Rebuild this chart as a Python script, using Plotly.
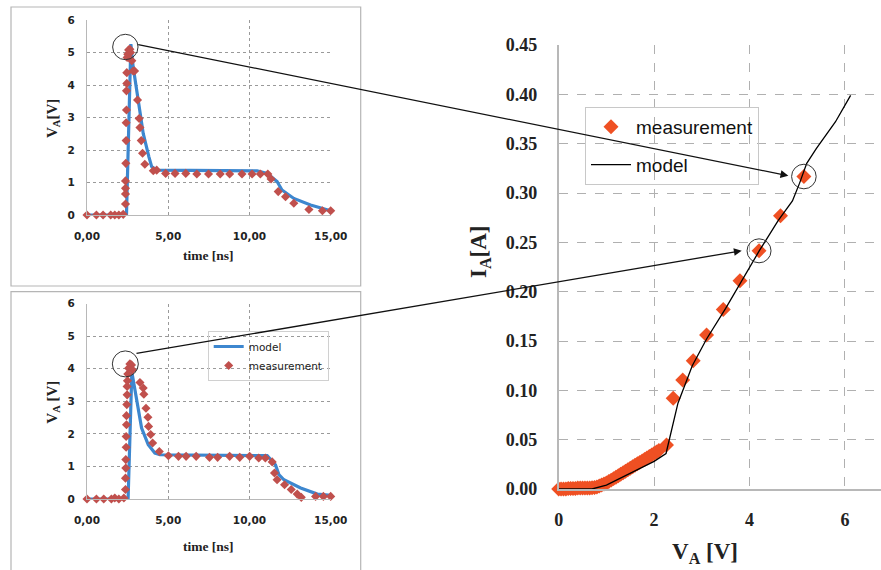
import plotly.graph_objects as go

W, H = 881, 570

# ---------------- data ----------------
# top-left: pulse 1 (time [ns], V_A [V])
t1_meas = [0.0, 0.58, 0.99, 1.46, 1.71, 1.96, 2.23, 2.37, 2.37, 2.37, 2.37, 2.39, 2.41, 2.41, 2.43, 2.43,
           2.45, 2.45, 2.47, 2.51, 2.56, 2.64, 2.68, 2.76, 2.84, 2.93, 3.11, 3.21, 3.26, 3.34, 3.42,
           3.56, 4.08, 4.29, 4.84, 5.42, 6.08, 6.76, 7.48, 8.2, 8.78, 9.54, 10.16, 10.67, 11.13,
           11.33, 11.77, 12.22, 12.73, 13.66, 14.49, 15.0]
v1_meas = [0.0, 0.0, 0.0, 0.0, 0.0, 0.0, 0.02, 0.34, 0.65, 0.82, 1.05, 1.59, 2.29, 2.84, 3.23, 3.82,
           4.05, 4.38, 4.85, 4.95, 5.08, 5.10, 5.0, 4.75, 4.43, 4.43, 3.54, 2.97, 2.69, 2.29, 1.90,
           1.56, 1.36, 1.38, 1.28, 1.28, 1.28, 1.26, 1.26, 1.26, 1.26, 1.26, 1.26, 1.26, 1.26,
           1.11, 0.72, 0.56, 0.36, 0.17, 0.13, 0.13]
t1_model = [0.0, 2.43, 2.70, 2.84, 3.15, 3.46, 3.81, 3.98, 4.29, 10.47, 11.09, 11.7, 12.0, 12.73, 13.76, 15.0]
v1_model = [0.0, 0.0, 5.26, 4.56, 3.54, 2.51, 1.79, 1.49, 1.38, 1.36, 1.28, 1.03, 0.77, 0.51, 0.31, 0.13]

# bottom-left: pulse 2
t2_meas = [0.0, 0.58, 1.03, 1.50, 1.71, 1.96, 2.27, 2.37, 2.37, 2.39, 2.39, 2.41, 2.41, 2.43, 2.43,
           2.45, 2.47, 2.47, 2.49, 2.51, 2.56, 2.64, 2.74, 2.80, 3.26, 3.46, 3.50, 3.63, 3.75, 3.79,
           3.92, 4.04, 4.45, 5.01, 5.63, 6.10, 6.72, 7.54, 8.04, 8.78, 9.40, 10.01, 10.57, 10.98,
           11.40, 11.54, 11.70, 12.16, 12.57, 12.94, 13.19, 14.07, 14.55, 15.0]
v2_meas = [0.0, 0.0, 0.0, 0.0, 0.03, 0.0, 0.03, 0.29, 0.64, 0.95, 1.21, 1.59, 1.92, 2.28, 2.56,
           2.90, 3.20, 3.46, 3.63, 3.84, 4.02, 4.15, 4.12, 3.97, 3.58, 3.41, 3.22, 2.79, 2.51, 2.23,
           1.98, 1.72, 1.46, 1.33, 1.31, 1.31, 1.31, 1.28, 1.28, 1.31, 1.28, 1.31, 1.26, 1.26,
           1.14, 0.80, 0.59, 0.44, 0.29, 0.15, 0.05, 0.08, 0.08, 0.08]
t2_model = [0.0, 2.53, 2.76, 3.05, 3.36, 3.77, 4.18, 4.49, 11.09, 11.6, 11.81, 12.12, 13.15, 14.18, 15.0]
v2_model = [0.0, 0.0, 3.9, 3.0, 2.18, 1.67, 1.41, 1.36, 1.33, 1.05, 0.75, 0.59, 0.34, 0.15, 0.11]

# right: I-V characteristic
va_meas = [0.0, 0.05, 0.1, 0.15, 0.2, 0.25, 0.3, 0.35, 0.4, 0.45, 0.5, 0.55, 0.6, 0.65, 0.7, 0.75,
           0.8, 0.85, 0.9, 0.95, 1.0, 1.05, 1.1, 1.15, 1.2, 1.25, 1.3, 1.35, 1.4, 1.45, 1.5, 1.55,
           1.6, 1.65, 1.7, 1.75, 1.8, 1.85, 1.9, 1.95, 2.0, 2.05, 2.1, 2.26, 2.40, 2.60, 2.82,
           3.10, 3.45, 3.80, 4.20, 4.65, 5.14]
ia_meas = [0.0, 0.0, 0.0, 0.0, 0.0005, 0.0005, 0.0005, 0.0005, 0.001, 0.001, 0.001, 0.001, 0.001,
           0.001, 0.0012, 0.0015, 0.002, 0.003, 0.004, 0.005, 0.006, 0.0075, 0.009, 0.0105, 0.012,
           0.0135, 0.015, 0.0165, 0.018, 0.0195, 0.021, 0.0225, 0.024, 0.0255, 0.027, 0.0285, 0.030,
           0.0315, 0.033, 0.0345, 0.036, 0.0375, 0.039, 0.0446, 0.092, 0.1105, 0.130, 0.156, 0.182,
           0.211, 0.2414, 0.277, 0.3167]
va_model = [0.0, 0.7, 1.0, 1.5, 2.0, 2.25, 2.32, 2.5, 2.8, 3.1, 3.5, 3.8, 4.2, 4.6, 4.9, 5.05,
            5.2, 5.4, 5.8, 6.12]
ia_model = [0.0, 0.0, 0.004, 0.016, 0.028, 0.036, 0.05, 0.087, 0.125, 0.152, 0.183, 0.208, 0.241,
            0.272, 0.292, 0.31, 0.33, 0.345, 0.372, 0.399]

time_ticks = [0, 5, 10, 15]
time_ticktext = ["0,00", "5,00", "10,00", "15,00"]
v_ticks = [0, 1, 2, 3, 4, 5, 6]
va_ticks = [0, 2, 4, 6]
ia_ticks = [0.0, 0.05, 0.10, 0.15, 0.20, 0.25, 0.30, 0.35, 0.40, 0.45]

# ---------------- style ----------------
BLUE = "#3D87CF"
RED = "#C0504D"
ORANGE = "#EF5023"


def px(x):
    return x / W


def py(y):
    return 1 - y / H


fig = go.Figure()

# top-left
fig.add_trace(go.Scatter(x=t1_model, y=v1_model, mode="lines", line=dict(color=BLUE, width=3.2),
                         xaxis="x", yaxis="y", showlegend=False))
fig.add_trace(go.Scatter(x=t1_meas, y=v1_meas, mode="markers",
                         marker=dict(symbol="diamond", size=7, color=RED), cliponaxis=False,
                         xaxis="x", yaxis="y", showlegend=False))
# bottom-left
fig.add_trace(go.Scatter(x=t2_model, y=v2_model, mode="lines", name="model",
                         line=dict(color=BLUE, width=3.2), xaxis="x2", yaxis="y2", legend="legend2"))
fig.add_trace(go.Scatter(x=t2_meas, y=v2_meas, mode="markers", name="measurement",
                         marker=dict(symbol="diamond", size=7, color=RED), cliponaxis=False,
                         xaxis="x2", yaxis="y2", legend="legend2"))
# right
fig.add_trace(go.Scatter(x=va_meas, y=ia_meas, mode="markers", name="measurement",
                         marker=dict(symbol="diamond", size=11.5, color=ORANGE), cliponaxis=False,
                         xaxis="x3", yaxis="y3", legend="legend", legendgroup="a"))
fig.add_trace(go.Scatter(x=va_model, y=ia_model, mode="lines", name="model",
                         line=dict(color="black", width=1.3), xaxis="x3", yaxis="y3",
                         legend="legend", legendgroup="b"))

left_tickfont = dict(family="DejaVu Sans", size=10.5, color="#222", weight="bold")
small_ax = dict(range=[0, 15], tickvals=time_ticks, ticktext=time_ticktext, showgrid=True,
                gridcolor="#9a9a9a", griddash="dot", gridwidth=1, showline=True, linecolor="#b8b8b8",
                linewidth=1, zeroline=False, ticks="", tickfont=left_tickfont, ticklabelstandoff=11)
small_ay = dict(range=[0, 6], tickvals=v_ticks, showgrid=True, gridcolor="#9a9a9a", griddash="dot",
                gridwidth=1, showline=True, linecolor="#b8b8b8", linewidth=1, zeroline=False, ticks="",
                tickfont=left_tickfont, ticklabelstandoff=9)

right_font = dict(family="Liberation Serif", size=18, color="#222", weight="bold")

fig.update_layout(
    width=W, height=H, margin=dict(l=0, r=0, t=0, b=0, pad=0, autoexpand=False),
    paper_bgcolor="white", plot_bgcolor="white",
    xaxis=dict(domain=[px(87), px(330.7)], anchor="y", **small_ax),
    yaxis=dict(domain=[py(215), py(20)], anchor="x", **small_ay),
    xaxis2=dict(domain=[px(87), px(330.7)], anchor="y2", **small_ax),
    yaxis2=dict(domain=[py(499), py(303.7)], anchor="x2", **small_ay),
    xaxis3=dict(domain=[px(558.7), 1.0], anchor="y3", range=[0, (W - 558.7) / 47.7], tickvals=va_ticks,
                showgrid=True, gridcolor="#b0b0b0", griddash="dash", gridwidth=1, showline=True,
                linecolor="#b8b8b8", linewidth=1.5, zeroline=False, ticks="", tickfont=right_font,
                ticklabelstandoff=14),
    yaxis3=dict(domain=[py(489), py(45)], anchor="x3", range=[0, 0.45], tickvals=ia_ticks,
                tickformat=".2f", showgrid=True, gridcolor="#b0b0b0", griddash="dash", gridwidth=1,
                showline=True, linecolor="#b8b8b8", linewidth=1.5, zeroline=False, ticks="",
                tickfont=right_font, ticklabelstandoff=16),
    legend=dict(x=px(585), y=py(107), xanchor="left", yanchor="top", bgcolor="rgba(255,255,255,0)",
                bordercolor="#c8c8c8", borderwidth=1, font=dict(family="Liberation Sans", size=19,
                                                               color="#111"),
                tracegroupgap=10, itemwidth=40),
    legend2=dict(x=px(207.7), y=py(331), xanchor="left", yanchor="top", bgcolor="rgba(255,255,255,0)",
                 bordercolor="#d0d0d0", borderwidth=1, font=dict(family="DejaVu Sans", size=10.5,
                                                                color="#222"),
                 tracegroupgap=0),
)

shapes = []
# frames around the left charts
shapes.append(dict(type="rect", xref="paper", yref="paper", x0=px(11), x1=px(360.7), y0=py(286), y1=py(7),
                   line=dict(color="#b5b5b5", width=1.2), layer="below"))
shapes.append(dict(type="rect", xref="paper", yref="paper", x0=px(11), x1=px(360.7), y0=py(575),
                   y1=py(291.7), line=dict(color="#b5b5b5", width=1.2), layer="below"))

# highlight circles
def circle(xr, yr, xa, ya, r):
    return dict(type="circle", xref=xr, yref=yr, xsizemode="pixel", ysizemode="pixel", xanchor=xa,
                yanchor=ya, x0=-r, x1=r, y0=-r, y1=r, line=dict(color="#333", width=1))

shapes.append(circle("x", "y", 2.36, 5.17, 12.7))
shapes.append(circle("x2", "y2", 2.36, 4.15, 13))
shapes.append(circle("x3", "y3", 5.14, 0.3167, 12.3))
shapes.append(circle("x3", "y3", 4.20, 0.2414, 12))
fig.update_layout(shapes=shapes)


def arrow(head, tail):
    return dict(text="", xref="paper", yref="paper", axref="pixel", ayref="pixel",
                x=px(head[0]), y=py(head[1]), ax=tail[0] - head[0], ay=tail[1] - head[1],
                showarrow=True, arrowhead=2, arrowsize=1.2, arrowwidth=1.3, arrowcolor="#111")


def label(text, x, y, size, angle=0):
    return dict(text=text, xref="paper", yref="paper", x=px(x), y=py(y), xanchor="center",
                yanchor="middle", textangle=angle, showarrow=False,
                font=dict(family="Liberation Serif", color="#222", weight="bold", size=size))


ann = [
    label("V<sub>A</sub>[V]", 53, 119, 15, -90),
    label("V<sub>A</sub> [V]", 53, 402.7, 15, -90),
    label("time [ns]", 208, 255, 13.5),
    label("time [ns]", 208, 546, 13.5),
    label("V<sub>A</sub> [V]", 705, 553, 23),
    label("I<sub>A</sub>[A]", 480, 252, 23, -90),
    arrow((788.3, 175.7), (136.7, 44.3)),
    arrow((741.7, 250.7), (135, 353.7)),
]
fig.update_layout(annotations=ann)

fig.write_html("out.html", config={"displayModeBar": False},
               post_script="document.body.style.margin='0';document.body.style.overflow='hidden';")
